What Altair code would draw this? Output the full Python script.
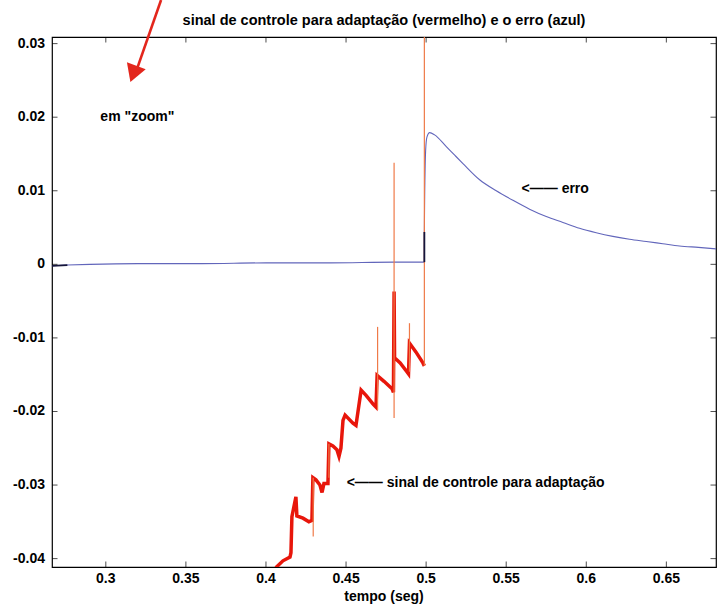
import altair as alt
import pandas as pd

# Axis ranges and tick positions
X_DOMAIN = [0.2664, 0.681]
Y_DOMAIN = [-0.04114, 0.0309]
X_TICKS = [0.3, 0.35, 0.4, 0.45, 0.5, 0.55, 0.6, 0.65]
Y_TICKS = [-0.04, -0.03, -0.02, -0.01, 0, 0.01, 0.02, 0.03]

TITULO = "sinal de controle para adaptação (vermelho) e o erro (azul)"
TITULO_X = "tempo (seg)"

# Error signal (blue)
erro_t = [0.2664, 0.2760, 0.2900, 0.3200, 0.3600, 0.4000, 0.4400, 0.4800, 0.4989,
          0.4989, 0.4997, 0.5005, 0.5022, 0.5053, 0.5126, 0.5180, 0.5230, 0.5334,
          0.5438, 0.5542, 0.5646, 0.5750, 0.5854, 0.5958, 0.6062, 0.6166, 0.6270,
          0.6375, 0.6478, 0.6582, 0.6700, 0.6811]
erro_v = [-0.0002, -0.0001, 0.0000, 0.0001, 0.0001, 0.0002, 0.0002, 0.0003, 0.0003,
          0.0044, 0.0155, 0.0173, 0.0179, 0.0176, 0.0160, 0.0148, 0.0137, 0.0115,
          0.0100, 0.0087, 0.0075, 0.0065, 0.0057, 0.0049, 0.0043, 0.0038, 0.0034,
          0.0031, 0.0028, 0.0025, 0.0023, 0.0021]

# Dark traces: start of error trace and the step at t = 0.4989
dark_t = [0.2664, 0.2760, 0.4989, 0.4989]
dark_v = [-0.0002, -0.0001, 0.0003, 0.0044]
dark_g = ["a", "a", "b", "b"]

# Adaptation control signal (red)
ctrl_t = [0.4050, 0.4067, 0.4106, 0.4150, 0.4156, 0.4162, 0.4187, 0.4193, 0.4231,
          0.4268, 0.4287, 0.4293, 0.4312, 0.4337, 0.4350, 0.4362, 0.4387, 0.4393,
          0.4418, 0.4443, 0.4456, 0.4468, 0.4481, 0.4494, 0.4543, 0.4562, 0.4594,
          0.4625, 0.4669, 0.4687, 0.4694, 0.4737, 0.4787, 0.4796, 0.4800, 0.4803,
          0.4838, 0.4880, 0.4890, 0.4896, 0.4936, 0.4980, 0.4989]
ctrl_v = [-0.0418, -0.0411, -0.0403, -0.0398, -0.0392, -0.0343, -0.0316, -0.0342, -0.0345,
          -0.0350, -0.0348, -0.0290, -0.0293, -0.0300, -0.0310, -0.0298, -0.0298, -0.0244,
          -0.0247, -0.0252, -0.0261, -0.0250, -0.0212, -0.0205, -0.0216, -0.0219, -0.0171,
          -0.0178, -0.0190, -0.0194, -0.0151, -0.0159, -0.0169, -0.0174, -0.0037, -0.0127,
          -0.0134, -0.0146, -0.0149, -0.0107, -0.0119, -0.0134, -0.0138]

# Narrow spikes of the control signal
spike_t = [0.4295, 0.4393, 0.4697, 0.4800, 0.4896, 0.4989]
spike_lo = [-0.0370, -0.0290, -0.0198, -0.0209, -0.0146, -0.0138]
spike_hi = [-0.0290, -0.0244, -0.0085, 0.0138, -0.0080, 0.0360]

# Pointer arrow near the top left
seta_t = [0.3345, 0.3197]
seta_v = [0.03593, 0.0267]
ponta_t = [0.3172]
ponta_v = [0.02588]

# Annotations
notas_txt = ['em "zoom"', "<—— erro", "<—— sinal de controle para adaptação"]
notas_t = [0.2966, 0.5596, 0.4504]
notas_v = [0.0200, 0.0102, -0.0297]

FONT = "Liberation Sans"
AZUL = "#6266bb"
VERMELHO = "#e8160b"
LARANJA = "#ef7a48"
SETA = "#e3261c"

erro_df = pd.DataFrame({"t": erro_t, "v": erro_v})
dark_df = pd.DataFrame({"t": dark_t, "v": dark_v, "g": dark_g})
ctrl_df = pd.DataFrame({"t": ctrl_t, "v": ctrl_v})
spike_df = pd.DataFrame({"t": spike_t, "lo": spike_lo, "hi": spike_hi})
seta_df = pd.DataFrame({"t": seta_t, "v": seta_v})
ponta_df = pd.DataFrame({"t": ponta_t, "v": ponta_v})
notas_df = pd.DataFrame({"txt": notas_txt, "t": notas_t, "v": notas_v})

# Tick tables carry the frame edges they sit on and their label text
xt_df = pd.DataFrame({"t": X_TICKS, "lo": Y_DOMAIN[0], "hi": Y_DOMAIN[1],
                      "lbl": [str(v) for v in X_TICKS]})
yt_df = pd.DataFrame({"v": Y_TICKS, "lo": X_DOMAIN[0], "hi": X_DOMAIN[1],
                      "lbl": [str(v) for v in Y_TICKS]})
meio = (X_DOMAIN[0] + X_DOMAIN[1]) / 2
topo_df = pd.DataFrame({"txt": [TITULO], "t": [meio], "v": [Y_DOMAIN[1]]})
base_df = pd.DataFrame({"txt": [TITULO_X], "t": [meio], "v": [Y_DOMAIN[0]]})

xs = alt.Scale(domain=X_DOMAIN, nice=False, zero=False)
ys = alt.Scale(domain=Y_DOMAIN, nice=False, zero=False)


def X(field):
    return alt.X(field, type="quantitative", scale=xs, axis=None)


def Y(field):
    return alt.Y(field, type="quantitative", scale=ys, axis=None)


erro = alt.Chart(erro_df).mark_line(color=AZUL, strokeWidth=1.1, clip=True,
                                    interpolate="monotone").encode(
    x=X("t"), y=Y("v")
)
dark = alt.Chart(dark_df).mark_line(color="#15153a", strokeWidth=1.8, clip=True).encode(
    x=X("t"), y=Y("v"), detail="g:N"
)
ctrl = alt.Chart(ctrl_df).mark_line(color=VERMELHO, strokeWidth=3.5, clip=True).encode(
    x=X("t"), y=Y("v")
)
spikes = alt.Chart(spike_df).mark_rule(color=LARANJA, strokeWidth=1.2, clip=True).encode(
    x=X("t"), y=Y("lo"), y2="hi"
)
seta = alt.Chart(seta_df).mark_line(color=SETA, strokeWidth=2.6).encode(
    x=X("t"), y=Y("v")
)
ponta = alt.Chart(ponta_df).mark_point(shape="triangle-down", filled=True, opacity=1,
                                       color=SETA, size=400, angle=20).encode(
    x=X("t"), y=Y("v")
)
txt_style = dict(font=FONT, fontWeight="bold", color="black")
notas = alt.Chart(notas_df).mark_text(fontSize=14, align="left", baseline="middle",
                                      **txt_style).encode(
    x=X("t"), y=Y("v"), text="txt:N"
)

# Inward ticks on all four sides of the frame
tk = dict(color="black", thickness=1, size=11, clip=True)
tick_bottom = alt.Chart(xt_df).mark_tick(orient="vertical", **tk).encode(
    x=X("t"), y=Y("lo"))
tick_top = alt.Chart(xt_df).mark_tick(orient="vertical", **tk).encode(
    x=X("t"), y=Y("hi"))
tick_left = alt.Chart(yt_df).mark_tick(orient="horizontal", **tk).encode(
    y=Y("v"), x=X("lo"))
tick_right = alt.Chart(yt_df).mark_tick(orient="horizontal", **tk).encode(
    y=Y("v"), x=X("hi"))

# Tick labels
lbl_x = alt.Chart(xt_df).mark_text(fontSize=14, align="center", baseline="middle",
                                   dy=12, **txt_style).encode(
    x=X("t"), y=Y("lo"), text="lbl:N")
lbl_y = alt.Chart(yt_df).mark_text(fontSize=14, align="right", baseline="middle",
                                   dx=-7, **txt_style).encode(
    x=X("lo"), y=Y("v"), text="lbl:N")

# Chart title above the frame and axis title below it
titulo = alt.Chart(topo_df).mark_text(fontSize=14.5, align="center", baseline="middle",
                                      dy=-16, **txt_style).encode(
    x=X("t"), y=Y("v"), text="txt:N")
titulo_x = alt.Chart(base_df).mark_text(fontSize=14, align="center", baseline="middle",
                                        dy=30, **txt_style).encode(
    x=X("t"), y=Y("v"), text="txt:N")

chart = alt.layer(
    erro, ctrl, spikes, dark, seta, ponta, notas,
    tick_bottom, tick_top, tick_left, tick_right, lbl_x, lbl_y, titulo, titulo_x
).properties(
    width=664,
    height=530,
    autosize=alt.AutoSizeParams(type="none"),
    padding={"left": 52, "top": 37, "right": 1, "bottom": 39},
    background="white",
).configure_view(
    stroke="black", strokeWidth=1.2
)

chart.save("out.html", embed_options={"renderer": "svg", "actions": False})
